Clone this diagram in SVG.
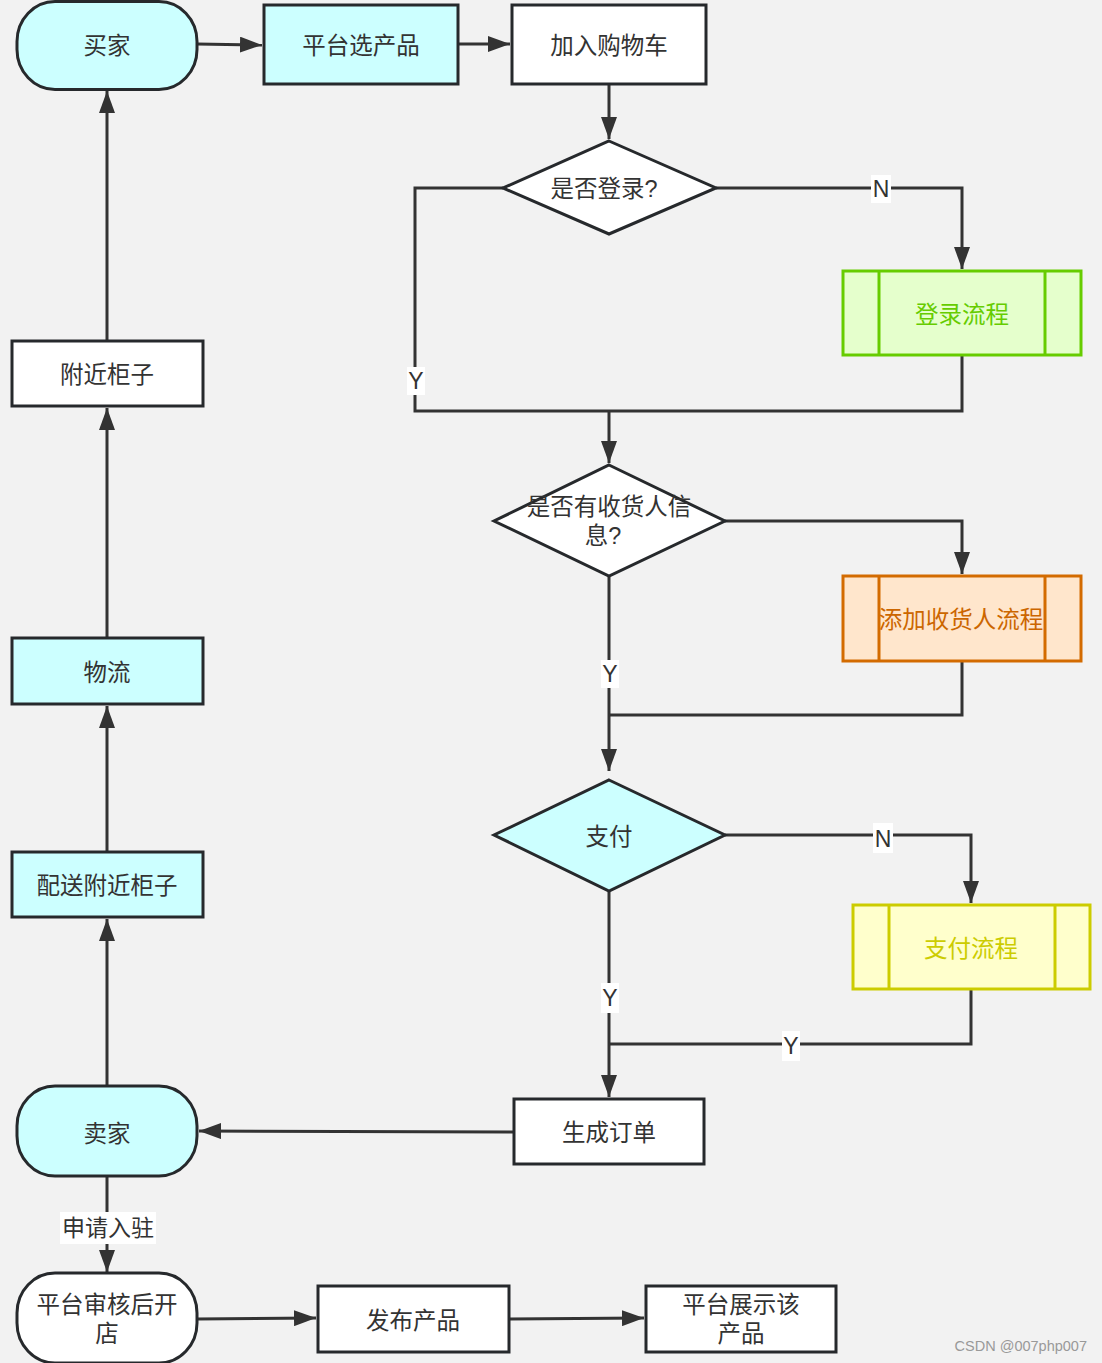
<svg xmlns="http://www.w3.org/2000/svg" width="1102" height="1363" viewBox="0 0 1102 1363">
<defs>
<marker id="ah" viewBox="0 0 22 16" refX="22" refY="8" markerWidth="22" markerHeight="16" markerUnits="userSpaceOnUse" orient="auto">
<path d="M0,0 L22,8 L0,16 Z" fill="#333333"/>
</marker>
<style>
.t{font-family:"Liberation Sans","Noto Sans CJK SC",sans-serif;font-size:23.5px;fill:#333333;text-anchor:middle;dominant-baseline:central}
.n{stroke:#26292c;stroke-width:3}
.cy{fill:#ccffff}
.w{fill:#ffffff}
.c{fill:none;stroke:#333333;stroke-width:3}
.a{marker-end:url(#ah)}
.lb{fill:#ffffff}
.lt{font-family:"Liberation Sans","Noto Sans CJK SC",sans-serif;font-size:23px;fill:#333333;text-anchor:middle;dominant-baseline:central}
</style>
</defs>
<rect width="1102" height="1363" fill="#f2f2f2"/>
<g id="connectors">
<path class="c a" d="M197,44 L262,45"/>
<path class="c a" d="M458,44 L510,44"/>
<path class="c a" d="M609,85 L609,139"/>
<path class="c a" d="M716,188 L962,188 L962,269"/>
<path class="c" d="M503,188 L415,188 L415,411 L962,411 L962,356"/>
<path class="c a" d="M609,411 L609,463"/>
<path class="c a" d="M725,521 L962,521 L962,574"/>
<path class="c a" d="M609,577 L609,771"/>
<path class="c" d="M962,662 L962,715 L609,715"/>
<path class="c a" d="M725,835 L971,835 L971,903"/>
<path class="c a" d="M609,892 L609,1097"/>
<path class="c" d="M971,990 L971,1044 L609,1044"/>
<path class="c a" d="M514,1132 L199,1131"/>
<path class="c a" d="M107,1086 L107,919"/>
<path class="c a" d="M107,852 L107,706"/>
<path class="c a" d="M107,638 L107,408"/>
<path class="c a" d="M107,341 L107,91"/>
<path class="c a" d="M107,1177 L107,1272"/>
<path class="c a" d="M197,1319 L316,1318"/>
<path class="c a" d="M509,1319 L644,1318"/>
<rect class="lb" x="871" y="175" width="20" height="28"/>
<text class="lt" x="881" y="189">N</text>
<rect class="lb" x="407" y="367" width="18" height="28"/>
<text class="lt" x="416" y="381">Y</text>
<rect class="lb" x="601" y="660" width="18" height="28"/>
<text class="lt" x="610" y="674">Y</text>
<rect class="lb" x="873" y="823" width="20" height="30"/>
<text class="lt" x="883" y="839">N</text>
<rect class="lb" x="601" y="983" width="18" height="30"/>
<text class="lt" x="610" y="998">Y</text>
<rect class="lb" x="782" y="1031" width="18" height="30"/>
<text class="lt" x="791" y="1046">Y</text>
<rect class="lb" x="60" y="1212" width="96" height="32"/>
<text class="lt" x="108" y="1228">申请入驻</text>
</g>
<g id="buyer">
<rect class="n cy" x="17" y="1.5" width="180" height="88" rx="38" ry="40"/>
<text class="t" x="107" y="46">买家</text>
</g>
<g id="select">
<rect class="n cy" x="264" y="5" width="194" height="79"/>
<text class="t" x="361" y="46">平台选产品</text>
</g>
<g id="cart">
<rect class="n w" x="512" y="5" width="194" height="79"/>
<text class="t" x="609" y="46">加入购物车</text>
</g>
<g id="login-q">
<polygon class="n w" points="609,141 716,188 609,234 503,188"/>
<text class="t" x="604" y="189">是否登录?</text>
</g>
<g id="login-flow">
<rect x="843" y="271" width="238" height="84" fill="#e5ffcc" stroke="#66cc00" stroke-width="3"/>
<line x1="879" y1="271" x2="879" y2="355" stroke="#66cc00" stroke-width="3"/>
<line x1="1045" y1="271" x2="1045" y2="355" stroke="#66cc00" stroke-width="3"/>
<text class="t" x="962" y="315" style="fill:#66cc00">登录流程</text>
</g>
<g id="addr-q">
<polygon class="n w" points="609,465 725,521 609,576 494,521"/>
<text class="t" x="609" y="507">是否有收货人信</text>
<text class="t" x="603" y="536">息?</text>
</g>
<g id="addr-flow">
<rect x="843" y="576" width="238" height="85" fill="#ffe6cc" stroke="#d36b00" stroke-width="3"/>
<line x1="879" y1="576" x2="879" y2="661" stroke="#d36b00" stroke-width="3"/>
<line x1="1045" y1="576" x2="1045" y2="661" stroke="#d36b00" stroke-width="3"/>
<text class="t" x="961" y="620" style="fill:#cc6600">添加收货人流程</text>
</g>
<g id="pay-q">
<polygon class="n cy" points="609,780 725,835 609,891 494,835"/>
<text class="t" x="609" y="837">支付</text>
</g>
<g id="pay-flow">
<rect x="853" y="905" width="237" height="84" fill="#ffffcc" stroke="#cccc00" stroke-width="3"/>
<line x1="889" y1="905" x2="889" y2="989" stroke="#cccc00" stroke-width="3"/>
<line x1="1055" y1="905" x2="1055" y2="989" stroke="#cccc00" stroke-width="3"/>
<text class="t" x="971" y="949" style="fill:#cccc00">支付流程</text>
</g>
<g id="order">
<rect class="n w" x="514" y="1099" width="190" height="65"/>
<text class="t" x="609" y="1133">生成订单</text>
</g>
<g id="seller">
<rect class="n cy" x="17" y="1086" width="180" height="90" rx="38" ry="40"/>
<text class="t" x="107" y="1134">卖家</text>
</g>
<g id="deliver">
<rect class="n cy" x="12" y="852" width="191" height="65"/>
<text class="t" x="107" y="886">配送附近柜子</text>
</g>
<g id="logistics">
<rect class="n cy" x="12" y="638" width="191" height="66"/>
<text class="t" x="107" y="673">物流</text>
</g>
<g id="cabinet">
<rect class="n w" x="12" y="341" width="191" height="65"/>
<text class="t" x="107" y="375">附近柜子</text>
</g>
<g id="open-shop">
<rect class="n w" x="17" y="1273" width="180" height="90" rx="38" ry="40"/>
<text class="t" x="107" y="1305">平台审核后开</text>
<text class="t" x="107" y="1334">店</text>
</g>
<g id="publish">
<rect class="n w" x="318" y="1286" width="191" height="66"/>
<text class="t" x="413" y="1321">发布产品</text>
</g>
<g id="display">
<rect class="n w" x="646" y="1286" width="190" height="66"/>
<text class="t" x="741" y="1305">平台展示该</text>
<text class="t" x="741" y="1334">产品</text>
</g>
<text x="1087" y="1346" font-family="Liberation Sans, sans-serif" font-size="14.5" fill="#999999" text-anchor="end" dominant-baseline="central">CSDN @007php007</text>
</svg>
